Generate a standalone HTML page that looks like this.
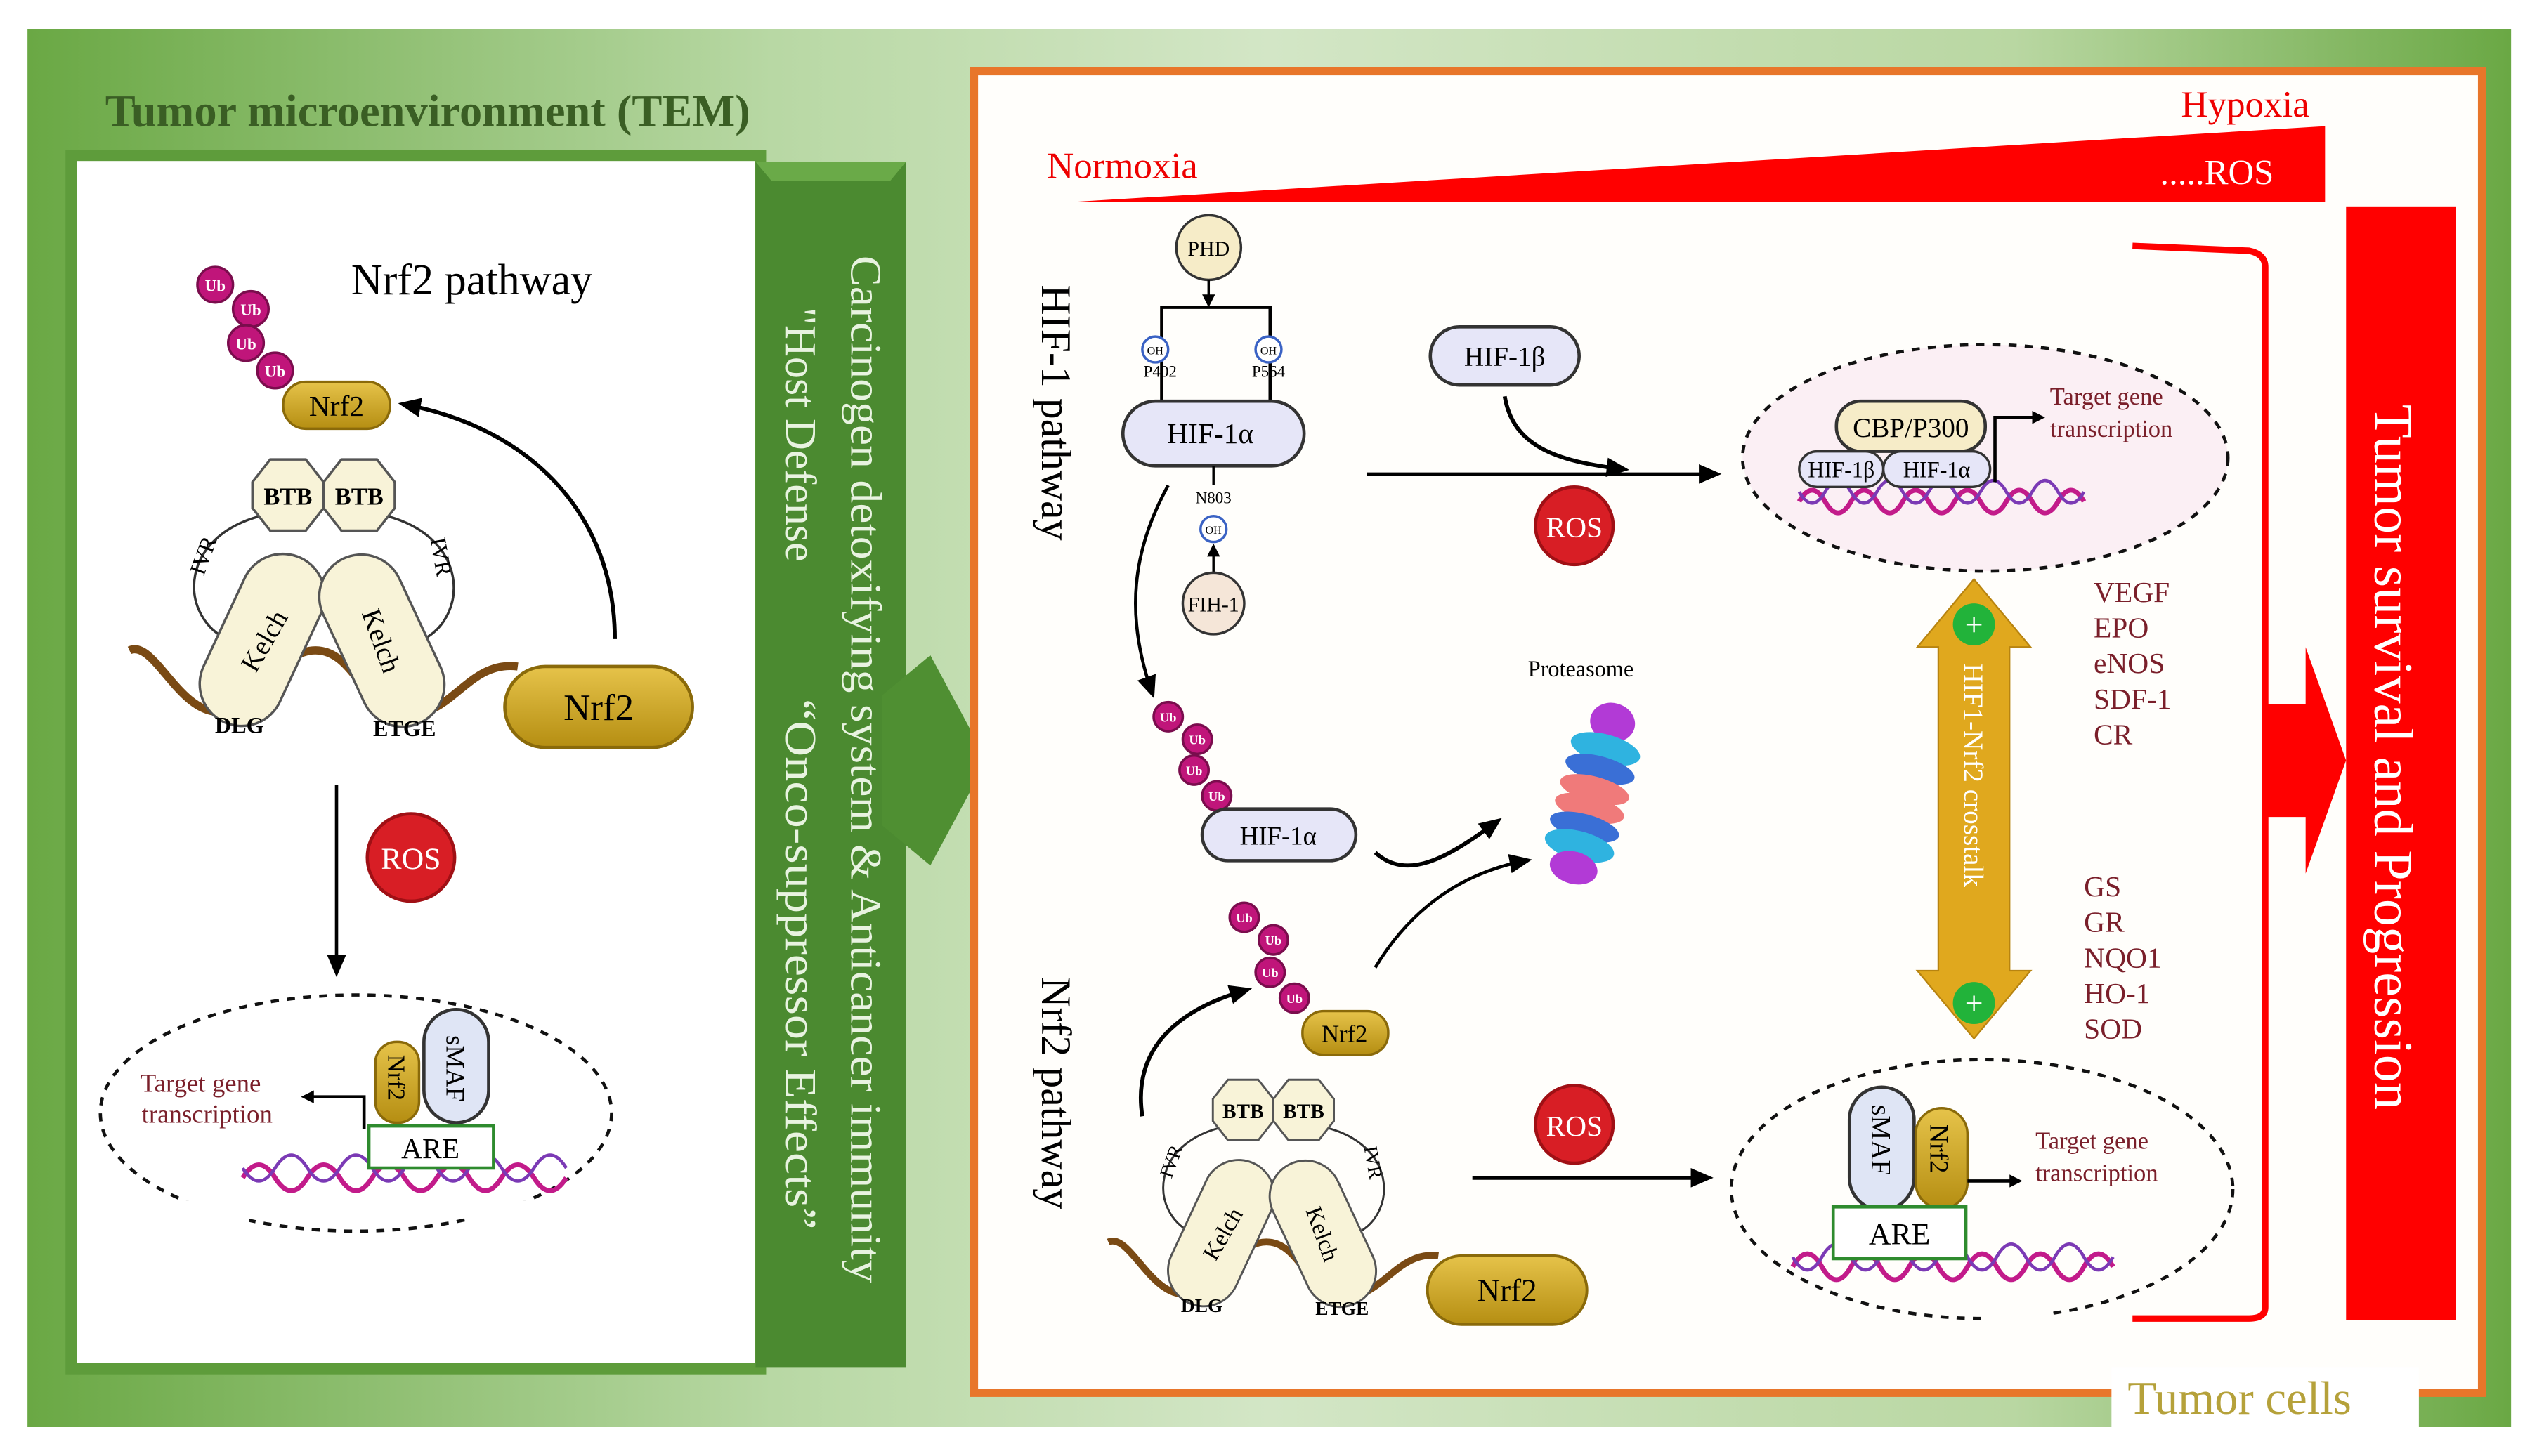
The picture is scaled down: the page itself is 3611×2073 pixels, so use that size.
<!DOCTYPE html>
<html><head><meta charset="utf-8"><style>
html,body{margin:0;padding:0;background:#fff;width:3611px;height:2073px;overflow:hidden}
svg{display:block}
text{font-family:"Liberation Serif",serif}
</style></head><body>
<svg width="3611" height="2073" viewBox="0 0 1568 900" preserveAspectRatio="none" xmlns="http://www.w3.org/2000/svg">
<defs>
<linearGradient id="bg" x1="0" x2="1" y1="0" y2="0">
<stop offset="0" stop-color="#6aa844"/><stop offset="0.3" stop-color="#b8d8a4"/><stop offset="0.5" stop-color="#d3e6c6"/><stop offset="0.8" stop-color="#b9d7a2"/><stop offset="1" stop-color="#6aa844"/></linearGradient>
<linearGradient id="gold" x1="0" x2="0" y1="0" y2="1"><stop offset="0" stop-color="#e6c34a"/><stop offset="1" stop-color="#b58e12"/></linearGradient>
<marker id="ah" markerWidth="8" markerHeight="8" refX="6" refY="4" orient="auto" markerUnits="userSpaceOnUse"><path d="M0,0 L8,4 L0,8 z" fill="#000"/></marker>
<marker id="ahb" markerWidth="14" markerHeight="12" refX="10" refY="6" orient="auto" markerUnits="userSpaceOnUse"><path d="M0,0 L14,6 L0,12 z" fill="#000"/></marker>
<g id="keap">
 <path d="M80,402 C95,395 110,440 135,440 C165,440 170,402 195,402 C220,402 225,442 252,442 C280,442 290,408 320,412" fill="none" stroke="#7a4a14" stroke-width="5"/>
 <path d="M165,318 C110,330 110,380 140,395" fill="none" stroke="#333" stroke-width="1.5"/>
 <path d="M235,318 C290,330 290,380 262,395" fill="none" stroke="#333" stroke-width="1.5"/>
 <text x="130" y="345" font-size="14" transform="rotate(-70 130 345)" text-anchor="middle">IVR</text>
 <text x="268" y="345" font-size="14" transform="rotate(80 268 345)" text-anchor="middle">IVR</text>
 <rect x="136" y="340" width="52" height="112" rx="26" fill="#f8f3d8" stroke="#555" stroke-width="1.5" transform="rotate(25 163 396)"/>
 <rect x="210" y="340" width="52" height="112" rx="26" fill="#f8f3d8" stroke="#555" stroke-width="1.5" transform="rotate(-25 236 396)"/>
 <text x="163" y="402" font-size="17" text-anchor="middle" transform="rotate(-60 163 396)">Kelch</text>
 <text x="236" y="402" font-size="17" text-anchor="middle" transform="rotate(70 236 396)">Kelch</text>
 <polygon points="167,284 189,284 200,298 200,314 189,328 167,328 156,314 156,298" fill="#f8f3d8" stroke="#555" stroke-width="1.5"/>
 <polygon points="211,284 233,284 244,298 244,314 233,328 211,328 200,314 200,298" fill="#f8f3d8" stroke="#555" stroke-width="1.5"/>
 <text x="178" y="312" font-size="15" font-weight="bold" text-anchor="middle">BTB</text>
 <text x="222" y="312" font-size="15" font-weight="bold" text-anchor="middle">BTB</text>
 <text x="148" y="453" font-size="14" font-weight="bold" text-anchor="middle">DLG</text>
 <text x="250" y="455" font-size="14" font-weight="bold" text-anchor="middle">ETGE</text>
 <rect x="312" y="412" width="116" height="50" rx="25" fill="url(#gold)" stroke="#8a6a0a" stroke-width="2"/>
 <text x="370" y="445" font-size="23" text-anchor="middle">Nrf2</text>
</g>
</defs>
<rect x="0" y="0" width="1568" height="900" fill="#fff"/>
<rect x="17" y="18" width="1535" height="864" fill="url(#bg)"/>
<text x="65" y="78" font-size="28" font-weight="bold" fill="#3a5e24">Tumor microenvironment (TEM)</text>
<rect x="44" y="96" width="426" height="750" fill="#fff" stroke="#5e9c3b" stroke-width="7"/>
<polygon points="467,100 560,100 560,845 467,845" fill="#4b8a30"/>
<polygon points="467,100 560,100 550,112 477,112" fill="#6aaa48"/>
<text transform="translate(526,158) rotate(90)" font-size="27" fill="#e8f3e0" font-family="Liberation Sans,sans-serif" textLength="635" lengthAdjust="spacingAndGlyphs">Carcinogen detoxifying system &amp; Anticancer immunity</text>
<text transform="translate(486,190) rotate(90)" font-size="27" fill="#e8f3e0" font-family="Liberation Sans,sans-serif">"Host Defense</text>
<text transform="translate(486,432) rotate(90)" font-size="27" fill="#e8f3e0" font-family="Liberation Sans,sans-serif" textLength="328" lengthAdjust="spacingAndGlyphs">“Onco-suppressor Effects”</text>
<polygon points="545,430 575,405 610,470 575,535 545,510" fill="#4f8f32"/>
<text x="217" y="182" font-size="27">Nrf2 pathway</text>
<g fill="#c0157a" stroke="#7a0d4d" stroke-width="1.5">
<circle cx="133" cy="176" r="11"/><circle cx="155" cy="191" r="11"/><circle cx="152" cy="212" r="11"/><circle cx="170" cy="229" r="11"/></g>
<g font-size="10" font-weight="bold" text-anchor="middle"><text x="133" y="180" fill="#fff">Ub</text><text x="155" y="195" fill="#fff">Ub</text><text x="152" y="216" fill="#fff">Ub</text><text x="170" y="233" fill="#fff">Ub</text></g>
<rect x="175" y="236" width="66" height="29" rx="14" fill="url(#gold)" stroke="#8a6a0a" stroke-width="1.5"/>
<text x="208" y="257" font-size="18" text-anchor="middle">Nrf2</text>
<path d="M380,395 C380,320 330,265 250,250" fill="none" stroke="#000" stroke-width="2.5" marker-end="url(#ahb)"/>
<use href="#keap"/>
<line x1="208" y1="485" x2="208" y2="600" stroke="#000" stroke-width="2" marker-end="url(#ahb)"/>
<circle cx="254" cy="530" r="27" fill="#d81e25" stroke="#a01015" stroke-width="2"/>
<text x="254" y="537" font-size="19" fill="#fff" text-anchor="middle">ROS</text>
<ellipse cx="220" cy="688" rx="158" ry="73" fill="none" stroke="#111" stroke-width="2" stroke-dasharray="5,5"/>
<rect x="64" y="742" width="90" height="20" fill="#fff"/><rect x="290" y="742" width="80" height="20" fill="#fff"/>
<path d="M150,728 q10,-16 20,0 t20,0 t20,0 t20,0 t20,0 t20,0 t20,0 t20,0 t20,0 t20,0" fill="none" stroke="#c21b8a" stroke-width="3"/>
<path d="M150,722 q10,16 20,0 t20,0 t20,0 t20,0 t20,0 t20,0 t20,0 t20,0 t20,0 t20,0" fill="none" stroke="#7b3ab5" stroke-width="2"/>
<rect x="262" y="624" width="40" height="70" rx="20" fill="#dfe5f5" stroke="#333" stroke-width="2"/>
<text transform="translate(276,640) rotate(90)" font-size="16">sMAF</text>
<rect x="232" y="644" width="27" height="50" rx="13" fill="url(#gold)" stroke="#8a6a0a" stroke-width="1.5"/>
<text transform="translate(240,652) rotate(90)" font-size="15">Nrf2</text>
<rect x="228" y="696" width="77" height="26" fill="#fff" stroke="#2e8b2e" stroke-width="2"/>
<text x="266" y="716" font-size="18" text-anchor="middle">ARE</text>
<path d="M225,698 L225,678 L188,678" fill="none" stroke="#000" stroke-width="2" marker-end="url(#ah)"/>
<text x="124" y="675" font-size="16" fill="#7a1f2a" text-anchor="middle">Target gene</text>
<text x="128" y="694" font-size="16" fill="#7a1f2a" text-anchor="middle">transcription</text>
<rect x="602" y="44" width="932" height="817" fill="#fffefb" stroke="#e8762a" stroke-width="5"/>
<polygon points="660,125 1437,78 1437,125" fill="#ff0000"/>
<text x="1348" y="72" font-size="23" fill="#e00">Hypoxia</text>
<text x="647" y="110" font-size="23" fill="#e00">Normoxia</text>
<text x="1335" y="114" font-size="22" fill="#fff">.....ROS</text>
<path d="M1318,152 L1390,155 Q1400,157 1400,165 L1400,808 Q1400,815 1390,815 L1318,815" fill="none" stroke="#f00" stroke-width="4"/>
<polygon points="1400,435 1425,435 1425,400 1450,470 1425,540 1425,505 1400,505" fill="#f00"/>
<rect x="1450" y="128" width="68" height="688" fill="#ff0000"/>
<text transform="translate(1468,250) rotate(90)" font-size="34" fill="#fff">Tumor survival and Progression</text>
<rect x="1305" y="845" width="190" height="37" fill="#fff"/>
<text x="1315" y="874" font-size="29" fill="#b5a13a">Tumor cells</text>
<text transform="translate(644,176) rotate(90)" font-size="26">HIF-1 pathway</text>
<text transform="translate(644,604) rotate(90)" font-size="26">Nrf2 pathway</text>
<circle cx="747" cy="153" r="20" fill="#f6ecc8" stroke="#333" stroke-width="1.5"/>
<text x="747" y="158" font-size="13" text-anchor="middle">PHD</text>
<line x1="747" y1="173" x2="747" y2="188" stroke="#000" stroke-width="1.5" marker-end="url(#ah)"/>
<path d="M718,248 L718,190 L785,190 L785,248" fill="none" stroke="#000" stroke-width="2"/>
<circle cx="714" cy="216" r="8" fill="#fff" stroke="#3a62c4" stroke-width="1.5"/><circle cx="784" cy="216" r="8" fill="#fff" stroke="#3a62c4" stroke-width="1.5"/>
<text x="714" y="219" font-size="7" text-anchor="middle">OH</text><text x="784" y="219" font-size="7" text-anchor="middle">OH</text>
<text x="717" y="233" font-size="10" text-anchor="middle">P402</text><text x="784" y="233" font-size="10" text-anchor="middle">P564</text>
<rect x="694" y="248" width="112" height="40" rx="20" fill="#e6e6f8" stroke="#333" stroke-width="2"/>
<text x="748" y="274" font-size="18" text-anchor="middle">HIF-1α</text>
<line x1="750" y1="288" x2="750" y2="300" stroke="#000" stroke-width="1.5"/>
<text x="750" y="311" font-size="10" text-anchor="middle">N803</text>
<circle cx="750" cy="327" r="8" fill="#fff" stroke="#3a62c4" stroke-width="1.5"/><text x="750" y="330" font-size="7" text-anchor="middle">OH</text>
<line x1="750" y1="354" x2="750" y2="338" stroke="#000" stroke-width="1.5" marker-end="url(#ah)"/>
<circle cx="750" cy="373" r="19" fill="#f5e6d8" stroke="#333" stroke-width="1.5"/><text x="750" y="378" font-size="13" text-anchor="middle">FIH-1</text>
<path d="M722,300 C700,340 695,380 712,428" fill="none" stroke="#000" stroke-width="2" marker-end="url(#ahb)"/>
<rect x="884" y="202" width="92" height="36" rx="18" fill="#e6e6f8" stroke="#333" stroke-width="2"/>
<text x="930" y="226" font-size="17" text-anchor="middle">HIF-1β</text>
<path d="M930,245 C935,275 960,285 1003,290" fill="none" stroke="#000" stroke-width="2.5" marker-end="url(#ahb)"/>
<line x1="845" y1="293" x2="1060" y2="293" stroke="#000" stroke-width="2" marker-end="url(#ahb)"/>
<circle cx="973" cy="325" r="24" fill="#d81e25" stroke="#a01015" stroke-width="2"/>
<text x="973" y="332" font-size="18" fill="#fff" text-anchor="middle">ROS</text>
<ellipse cx="1227" cy="283" rx="150" ry="70" fill="#fbeff4" stroke="#111" stroke-width="2" stroke-dasharray="5,5"/>
<path d="M1112,310 q8,-14 16,0 t16,0 t16,0 t16,0 t16,0 t16,0 t16,0 t16,0 t16,0 t16,0 t16,0" fill="none" stroke="#c21b8a" stroke-width="3"/>
<path d="M1112,304 q8,14 16,0 t16,0 t16,0 t16,0 t16,0 t16,0 t16,0 t16,0 t16,0 t16,0 t16,0" fill="none" stroke="#7b3ab5" stroke-width="2"/>
<rect x="1135" y="248" width="92" height="31" rx="15" fill="#f6ecc8" stroke="#333" stroke-width="2"/>
<text x="1181" y="270" font-size="17" text-anchor="middle">CBP/P300</text>
<rect x="1112" y="279" width="52" height="22" rx="11" fill="#e6e6f8" stroke="#333" stroke-width="1.5"/>
<text x="1138" y="295" font-size="14" text-anchor="middle">HIF-1β</text>
<rect x="1164" y="279" width="66" height="22" rx="11" fill="#e6e6f8" stroke="#333" stroke-width="1.5"/>
<text x="1197" y="295" font-size="14" text-anchor="middle">HIF-1α</text>
<path d="M1233,298 L1233,258 L1262,258" fill="none" stroke="#000" stroke-width="2" marker-end="url(#ah)"/>
<text x="1267" y="250" font-size="15" fill="#7a1f2a">Target gene</text>
<text x="1267" y="270" font-size="15" fill="#7a1f2a">transcription</text>
<polygon points="1220,358 1255,400 1242,400 1242,600 1255,600 1220,642 1185,600 1198,600 1198,400 1185,400" fill="#e0a81e" stroke="#b88410" stroke-width="1"/>
<circle cx="1220" cy="386" r="13" fill="#22b33a"/><text x="1220" y="393" font-size="20" fill="#fff" text-anchor="middle" font-family="Liberation Sans,sans-serif">+</text>
<circle cx="1220" cy="620" r="13" fill="#22b33a"/><text x="1220" y="627" font-size="20" fill="#fff" text-anchor="middle" font-family="Liberation Sans,sans-serif">+</text>
<text transform="translate(1214,410) rotate(90)" font-size="17" fill="#fff">HIF1-Nrf2 crosstalk</text>
<g font-size="18" fill="#7a1f2a">
<text x="1294" y="372">VEGF</text><text x="1294" y="394">EPO</text><text x="1294" y="416">eNOS</text><text x="1294" y="438">SDF-1</text><text x="1294" y="460">CR</text>
<text x="1288" y="554">GS</text><text x="1288" y="576">GR</text><text x="1288" y="598">NQO1</text><text x="1288" y="620">HO-1</text><text x="1288" y="642">SOD</text></g>
<text x="977" y="418" font-size="14" text-anchor="middle">Proteasome</text>
<g transform="rotate(15 985 490)">
<ellipse cx="985" cy="445" rx="14" ry="12" fill="#b23ad6"/>
<ellipse cx="985" cy="462" rx="22" ry="9" fill="#2fb3e0"/>
<ellipse cx="985" cy="475" rx="22" ry="8" fill="#3a6fd6"/>
<ellipse cx="985" cy="488" rx="22" ry="8" fill="#f07a7a"/>
<ellipse cx="985" cy="500" rx="22" ry="8" fill="#f07a7a"/>
<ellipse cx="985" cy="512" rx="22" ry="8" fill="#3a6fd6"/>
<ellipse cx="985" cy="524" rx="22" ry="9" fill="#2fb3e0"/>
<ellipse cx="985" cy="538" rx="15" ry="10" fill="#b23ad6"/></g>
<g fill="#c0157a" stroke="#7a0d4d" stroke-width="1.5">
<circle cx="722" cy="443" r="9"/><circle cx="740" cy="457" r="9"/><circle cx="738" cy="476" r="9"/><circle cx="752" cy="492" r="9"/>
<circle cx="769" cy="567" r="9"/><circle cx="787" cy="581" r="9"/><circle cx="785" cy="601" r="9"/><circle cx="800" cy="617" r="9"/></g>
<g font-size="8" font-weight="bold" text-anchor="middle">
<text x="722" y="446" fill="#fff">Ub</text><text x="740" y="460" fill="#fff">Ub</text><text x="738" y="479" fill="#fff">Ub</text><text x="752" y="495" fill="#fff">Ub</text>
<text x="769" y="570" fill="#fff">Ub</text><text x="787" y="584" fill="#fff">Ub</text><text x="785" y="604" fill="#fff">Ub</text><text x="800" y="620" fill="#fff">Ub</text></g>
<rect x="743" y="500" width="95" height="32" rx="16" fill="#e6e6f8" stroke="#333" stroke-width="2"/>
<text x="790" y="522" font-size="16" text-anchor="middle">HIF-1α</text>
<path d="M850,527 C870,545 895,530 925,508" fill="none" stroke="#000" stroke-width="2.5" marker-end="url(#ahb)"/>
<path d="M850,598 C870,565 900,540 943,532" fill="none" stroke="#000" stroke-width="2" marker-end="url(#ahb)"/>
<rect x="805" y="625" width="53" height="27" rx="13" fill="url(#gold)" stroke="#8a6a0a" stroke-width="1.5"/>
<text x="831" y="644" font-size="15" text-anchor="middle">Nrf2</text>
<path d="M706,690 C700,650 725,625 770,612" fill="none" stroke="#000" stroke-width="2.5" marker-end="url(#ahb)"/>
<use href="#keap" transform="translate(617,426) scale(0.85)"/>
<circle cx="973" cy="695" r="24" fill="#d81e25" stroke="#a01015" stroke-width="2"/>
<text x="973" y="702" font-size="18" fill="#fff" text-anchor="middle">ROS</text>
<line x1="910" y1="728" x2="1055" y2="728" stroke="#000" stroke-width="2.5" marker-end="url(#ahb)"/>
<ellipse cx="1225" cy="735" rx="155" ry="80" fill="none" stroke="#111" stroke-width="2" stroke-dasharray="5,5"/>
<rect x="1225" y="805" width="40" height="20" fill="#fffefb"/>
<path d="M1108,783 q9,-16 18,0 t18,0 t18,0 t18,0 t18,0 t18,0 t18,0 t18,0 t18,0 t18,0 t18,0" fill="none" stroke="#c21b8a" stroke-width="3"/>
<path d="M1108,777 q9,16 18,0 t18,0 t18,0 t18,0 t18,0 t18,0 t18,0 t18,0 t18,0 t18,0 t18,0" fill="none" stroke="#7b3ab5" stroke-width="2"/>
<rect x="1143" y="672" width="40" height="76" rx="20" fill="#dfe5f5" stroke="#333" stroke-width="2"/>
<text transform="translate(1157,683) rotate(90)" font-size="17">sMAF</text>
<rect x="1184" y="685" width="32" height="62" rx="16" fill="url(#gold)" stroke="#8a6a0a" stroke-width="1.5"/>
<text transform="translate(1193,695) rotate(90)" font-size="16">Nrf2</text>
<rect x="1133" y="746" width="82" height="32" fill="#fff" stroke="#2e8b2e" stroke-width="2"/>
<text x="1174" y="769" font-size="19" text-anchor="middle">ARE</text>
<line x1="1216" y1="730" x2="1248" y2="730" stroke="#000" stroke-width="2" marker-end="url(#ah)"/>
<text x="1258" y="710" font-size="15" fill="#7a1f2a">Target gene</text>
<text x="1258" y="730" font-size="15" fill="#7a1f2a">transcription</text>
</svg>
</body></html>
